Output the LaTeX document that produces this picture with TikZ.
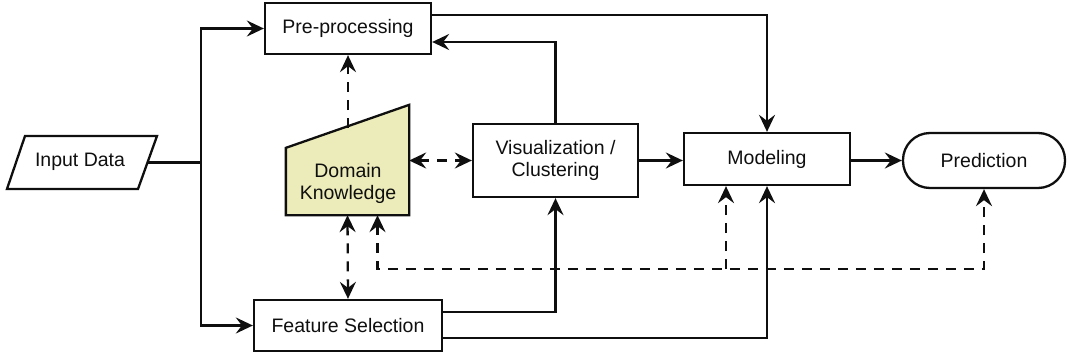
\documentclass[tikz,border=0pt]{standalone}
\usepackage{fontspec}
\setmainfont{Liberation Sans}
\usetikzlibrary{arrows.meta,calc}
\definecolor{dkfill}{RGB}{236,236,186}
\definecolor{ink}{RGB}{15,15,15}
\begin{document}
\begin{tikzpicture}[x=1pt,y=-1pt,line width=2.3pt,draw=ink,
  >={Stealth[length=17pt,width=16pt,inset=6pt]},
  lbl/.style={font=\fontsize{19.5}{22}\selectfont,text=ink,align=center,inner sep=0pt},
  box/.style={lbl,draw=ink,rectangle,fill=white},
  dsh/.style={dash pattern=on 10pt off 8pt}]
\useasboundingbox (0,0) rectangle (1067,361);
% nodes
\node[box,minimum width=166pt,minimum height=51pt] (pp) at (348,28.5) {Pre-processing};
\node[box,minimum width=165pt,minimum height=73pt] (vis) at (555.5,160.5) {Visualization /\\Clustering};
\node[box,minimum width=166pt,minimum height=52pt] (mod) at (767,159) {Modeling};
\node[box,rounded corners=27pt,minimum width=162pt,minimum height=55pt] (pred) at (984,160.5) {Prediction};
\node[box,minimum width=188pt,minimum height=51pt] (fs) at (348,325.5) {Feature Selection};
% domain knowledge (manual input shape)
\node[minimum width=121pt,minimum height=108pt,inner sep=0pt,outer sep=1.15pt] (dk) at (347.5,160) {};
\draw[fill=dkfill,line join=miter] (dk.south west) -- (dk.south east) -- (dk.north east) -- ($(dk.north west)+(0,43)$) -- cycle;
\node[lbl] (dkt) at (348,183) {Domain\\Knowledge};
\coordinate (dktop) at (348,128);
% input data (parallelogram)
\draw[line join=miter] (7,189) -- (138,189) -- (157,136) -- (25,136) -- cycle;
\node[lbl] (inp) at (80,162) {Input Data};
\coordinate (inpE) at (147.5,162.5);
\coordinate (j) at (201,162.5);
\coordinate (fy) at (0,269);
% solid connectors
\draw (inpE) -- (j);
\draw[->] (j) |- (pp.west);
\draw[->] (j) |- (fs.west);
\draw[->] ([yshift=13.5pt]pp.east) -| (mod.north);
\draw[->] (vis.north) |- ([yshift=-13.5pt]pp.east);
\draw[->] (vis.east) -- (vis.east -| mod.west);
\draw[->] (mod.east |- pred.west) -- (pred.west);
\draw[->] ([yshift=13.5pt]fs.east) -| (vis.south);
\draw[->] ([yshift=-12.5pt]fs.east) -| (mod.south);
% dashed connectors
\draw[dsh,->] (dktop) -- (pp.south);
\draw[dsh,<->] (dk.east |- vis.west) -- (vis.west);
\draw[dsh,<->] (dk.south) -- (fs.north);
\draw[dsh,<->] ([xshift=30pt]dk.south) |- (pred.south |- fy) -- (pred.south);
\draw[dsh,->] ([xshift=-41pt]mod.south |- fy) -- ([xshift=-41pt]mod.south);
\end{tikzpicture}
\end{document}
